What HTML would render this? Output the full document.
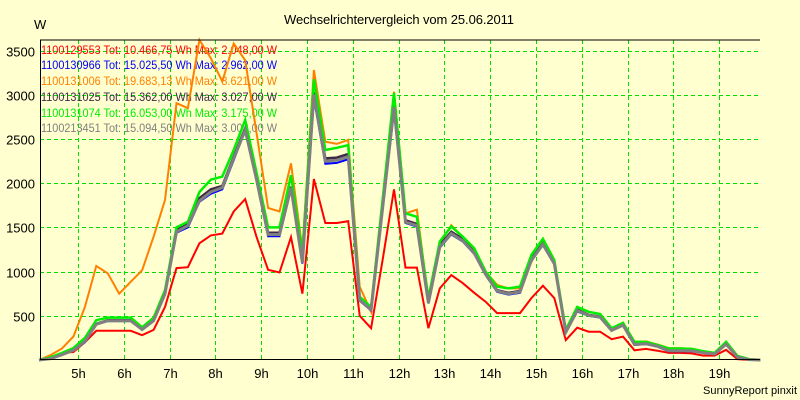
<!DOCTYPE html>
<html><head><meta charset="utf-8"><style>
html,body{margin:0;padding:0;background:#ffffd0;}
svg{display:block;font-family:"Liberation Sans",sans-serif;}
</style></head><body>
<svg id="chart" width="800" height="400" viewBox="0 0 800 400">
<rect x="0" y="0" width="800" height="400" fill="#ffffd0"/>
<text x="399" y="24" font-size="13" text-anchor="middle" textLength="230" fill="#000">Wechselrichtervergleich vom 25.06.2011</text>
<text x="34" y="29" font-size="13" fill="#000">W</text>
<text x="703" y="394" font-size="11" fill="#000" textLength="94">SunnyReport pinxit</text>
<g id="grid"></g>
<g id="yticks"></g>
<g id="xticks"></g>
<g id="legend"></g>
<g id="series"></g>
<g>
<line x1="40" y1="40" x2="760" y2="40" stroke="#000" stroke-width="1"/>
<line x1="40.5" y1="40" x2="40.5" y2="359" stroke="#000" stroke-width="1"/>
<line x1="40" y1="359.5" x2="760" y2="359.5" stroke="#000" stroke-width="1"/>
</g>
</svg>
<script>
const yTicks = [500,1000,1500,2000,2500,3000,3500];
const xTickHours = [5,6,7,8,9,10,11,12,13,14,15,16,17,18,19];
const xTickLabels = ["5h","6h","7h","8h","9h","10h","11h","12h","13h","14h","15h","16h","17h","18h","19h"];
const times = [];
for (let i = 0; i < 64; i++) times.push(4.15 + 0.25 * i);
const seriesNames = ["1100129553","1100130966","1100131006","1100131025","1100131074","1100213451"];
const seriesLabels = [
 "1100129553 Tot: 10.466,75 Wh Max: 2.048,00 W",
 "1100130966 Tot: 15.025,50 Wh Max: 2.962,00 W",
 "1100131006 Tot: 19.683,13 Wh Max: 3.621,00 W",
 "1100131025 Tot: 15.362,00 Wh Max: 3.027,00 W",
 "1100131074 Tot: 16.053,00 Wh Max: 3.175,00 W",
 "1100213451 Tot: 15.094,50 Wh Max: 3.003,00 W"];
const seriesColors = ["#ff0000","#0000ff","#ff8000","#402848","#00ee00","#808080"];
const red = [0,20,80,90,200,330,330,330,330,280,340,600,1040,1050,1320,1410,1430,1680,1820,1390,1020,990,1390,750,2048,1550,1550,1570,500,360,1130,1930,1045,1045,360,810,960,870,760,660,530,530,530,700,840,700,225,365,320,320,235,265,110,125,105,80,80,75,50,50,115,10,0,0];
const blue = [0,15,60,110,200,400,440,440,440,340,440,740,1440,1500,1790,1880,1930,2260,2600,2020,1400,1400,1940,1090,2962,2220,2230,2270,670,560,1700,2820,1550,1510,640,1270,1420,1340,1200,960,770,740,760,1120,1300,1080,310,550,500,480,330,390,170,180,150,100,100,100,80,65,175,30,5,0];
const orange = [0,55,130,265,600,1065,980,750,885,1015,1395,1810,2905,2850,3621,3415,3150,3580,3390,2565,1720,1680,2225,1250,3280,2470,2445,2490,830,545,1780,3035,1660,1700,680,1320,1525,1380,1245,1000,850,810,810,1110,1360,1130,340,595,545,520,360,415,205,210,175,135,135,125,100,80,205,45,10,0];
const dark = [0,20,70,120,220,410,450,450,450,350,450,760,1470,1540,1830,1930,1970,2300,2620,2050,1440,1440,1960,1120,3027,2280,2290,2330,690,580,1750,2880,1580,1540,650,1300,1450,1370,1220,980,790,760,780,1150,1320,1100,320,570,510,490,340,400,180,190,160,110,110,110,85,70,185,35,5,0];
const green = [0,30,80,135,250,450,480,480,480,370,478,790,1500,1565,1900,2040,2075,2375,2715,2115,1500,1500,2090,1210,3175,2375,2400,2430,715,600,1810,3020,1660,1620,700,1340,1510,1395,1265,1000,830,810,830,1190,1370,1130,340,600,545,520,360,420,205,205,170,130,130,125,100,80,205,45,10,0];
const gray = [0,15,60,110,210,405,445,445,445,345,445,750,1450,1520,1800,1900,1950,2280,2600,2040,1420,1420,1950,1100,3003,2250,2260,2300,680,570,1720,2860,1560,1520,645,1280,1430,1350,1210,970,780,750,770,1130,1310,1090,315,560,505,485,335,395,175,185,155,105,105,105,82,68,180,32,5,0];

const NS = "http://www.w3.org/2000/svg";
const X0 = 40, X1 = 760, Y0 = 360, YSCALE = 0.0884;
function xScale(h){ return 78 + 45.8 * (h - 5); }
function yScale(v){ return Y0 - v * YSCALE; }
function mk(tag, attrs, parent){ const e = document.createElementNS(NS, tag); for (const k in attrs) e.setAttribute(k, attrs[k]); parent.appendChild(e); return e; }

const grid = document.getElementById("grid");
const yt = document.getElementById("yticks");
const xt = document.getElementById("xticks");
yTicks.forEach(v => {
  const y = Math.round(yScale(v)) + 0.5;
  const gl = mk("line", {x1:X0, x2:X1, y1:y, y2:y, stroke:"#00e000", "stroke-width":1, "stroke-dasharray":"4 3"}, grid);
  
  
  const t = mk("text", {x:35, y:y+5, "font-size":13, "text-anchor":"end", fill:"#000"}, yt);
  t.textContent = String(v);
  
  
});
xTickHours.forEach((h, i) => {
  const x = Math.round(xScale(h)) + 0.5;
  const gl = mk("line", {x1:x, x2:x, y1:40, y2:359, stroke:"#00e000", "stroke-width":1, "stroke-dasharray":"4 3"}, grid);
  
  
  const t = mk("text", {x:x, y:378, "font-size":13, "text-anchor":"middle", fill:"#000"}, xt);
  t.textContent = xTickLabels[i];
  
  
});

const leg = document.getElementById("legend");
const legendY = [54,69,85,101,117,132];
seriesLabels.forEach((s, i) => {
  const t = mk("text", {x:41, y:legendY[i], "font-size":12, fill:seriesColors[i], textLength:236, lengthAdjust:"spacingAndGlyphs"}, leg);
  t.textContent = s;
  
  
});

const sg = document.getElementById("series");
const seriesData = [red, blue, orange, dark, green, gray];
const drawOrder = [2, 0, 1, 3, 4, 5];
const widths = [2, 2, 2, 2.5, 2.5, 3];
drawOrder.forEach(i => {
  const vals = seriesData[i];
  const pts = vals.map((v, j) => xScale(times[j]).toFixed(1) + "," + yScale(v).toFixed(1)).join(" ");
  const pl = mk("polyline", {points:pts, fill:"none", stroke:seriesColors[i], "stroke-width":widths[i], "stroke-linejoin":"miter"}, sg);
  
  
});
</script>
</body></html>
